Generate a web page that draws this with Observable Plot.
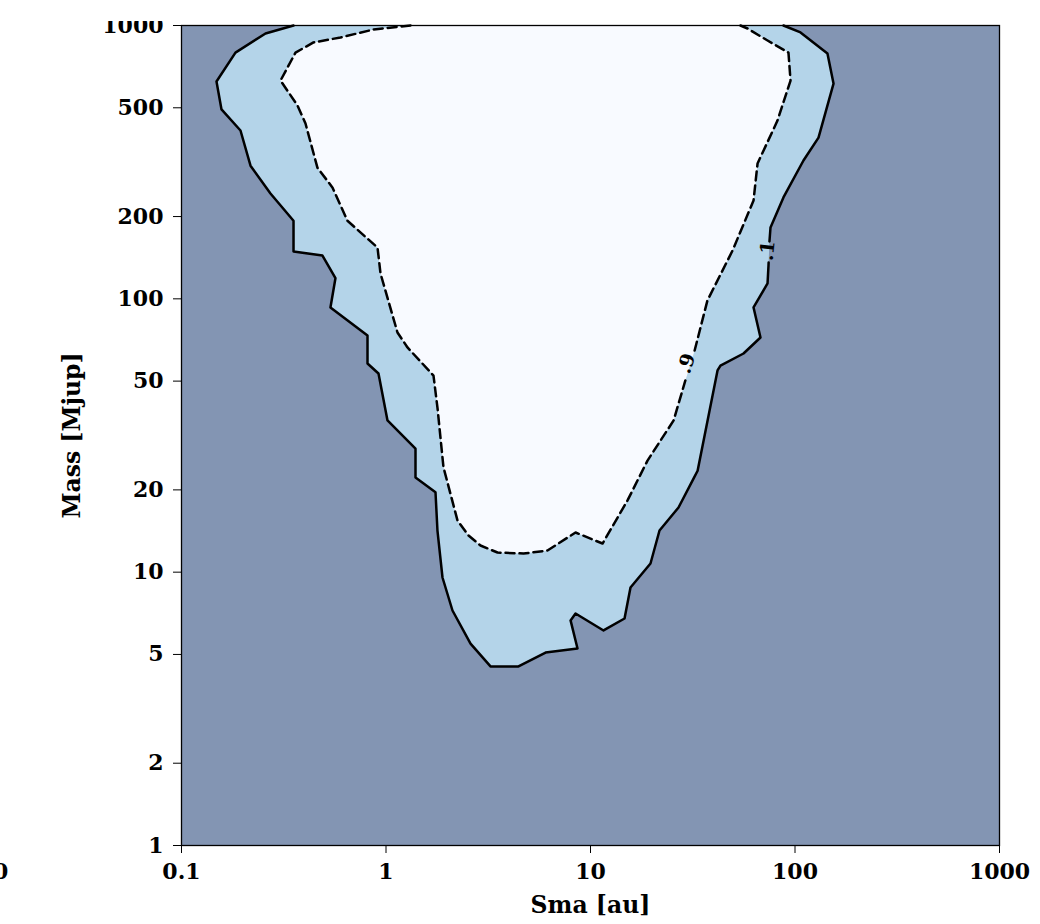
<!DOCTYPE html>
<html>
<head>
<meta charset="utf-8">
<script src="https://cdn.jsdelivr.net/npm/d3@7"></script>
<script src="https://cdn.jsdelivr.net/npm/@observablehq/plot@0.6"></script>
<style>
  html, body { margin: 0; padding: 0; background: #fff; width: 1040px; height: 924px; overflow: hidden; position: relative; }
  #chart { position: absolute; left: 0; top: 21px; }
  #chart svg { overflow: hidden; }
  .edge { position: absolute; left: -7px; top: 858px; font: bold 22px "DejaVu Serif", serif; color: #000; }
</style>
</head>
<body>
<div id="chart"></div>
<span class="edge">0</span>
<script>
// Detection-probability contours over semi-major axis (au) and companion mass (Mjup).
// A NaN entry marks where the contour line is broken to make room for its label.

// Outer contour, probability 0.1 (solid line)
const outerSma  = [0.353, 0.2575, 0.1836, 0.1483, 0.1569, 0.1943, 0.2175, 0.2723, 0.353, 0.353,
                   0.489, 0.566, 0.535, 0.812, 0.812, 0.919, 1.017, 1.394, 1.394, 1.746,
                   1.785, 1.889, 2.114, 2.590, 3.243, 4.445, 6.03, 8.64, 7.99, 8.45,
                   11.58, 14.67, 15.69, 19.65, 21.75, 26.94, 31.9, 33.4, 41.8, 43.2,
                   56.0, 67.8, 62.7, 73.4, 74.2, 74.3, NaN, 75.0, 75.9, 87.8,
                   110.0, 130.3, 154.3, 144.1, 106.4, 87.8];
const outerMass = [1000, 935, 796, 624, 493, 413, 307, 243, 193, 149,
                   144, 119, 93, 73.4, 58.0, 53.3, 35.9, 28.3, 22.2, 19.6,
                   14.2, 9.56, 7.24, 5.48, 4.52, 4.52, 5.08, 5.26, 6.66, 7.06,
                   6.12, 6.77, 8.79, 10.76, 14.2, 17.24, 22.0, 23.5, 54.7, 57.0,
                   63.1, 72.2, 93, 113.8, 132.4, 135.8, NaN, 162.1, 182.4, 234.9,
                   320.7, 389, 613, 790, 943, 1000];

// Inner contour, probability 0.9 (dashed line)
const innerSma  = [1.318, 0.869, 0.599, 0.442, 0.361, 0.305, 0.369, 0.404, 0.462, 0.548,
                   0.648, 0.909, 0.940, 1.138, 1.274, 1.707, 1.785, 1.910, 2.237, 2.532,
                   2.898, 3.510, 4.704, 6.16, 8.45, 11.45, 15.17, 19.0, 25.5, 29.1,
                   NaN, 32.3, 37.3, 49.5, 62.7, 65.6, 82.1, 95.1, 92.9, 73.4,
                   58.6, 54.1];
const innerMass = [1000, 967, 904, 867, 796, 629, 510, 438, 302, 255,
                   193, 154, 123.8, 75.3, 66.4, 52.4, 40.0, 24.2, 15.45, 13.62,
                   12.52, 11.80, 11.70, 12.0, 13.97, 12.73, 18.3, 25.6, 35.9, 50.3,
                   NaN, 64.7, 98.6, 150.2, 229, 312.7, 449, 629, 796, 881,
                   975, 1000];

// Inline contour labels
const lowLabel  = [{sma: 73.4, mass: 150, text: ".1"}];
const highLabel = [{sma: 29.5, mass: 58.0, text: ".9"}];

// Axis ticks
const xTicks = [0.1, 1, 10, 100, 1000];
const xTickLabels = ["0.1", "1", "10", "100", "1000"];
const yTicks = [1, 2, 5, 10, 20, 50, 100, 200, 500, 1000];
const yTickLabels = ["1", "2", "5", "10", "20", "50", "100", "200", "500", "1000"];

const xTitle = "Sma [au]";
const yTitle = "Mass [Mjup]";

const DARK = "#8395b3";
const LIGHT = "#b4d4e9";
const PALE = "#f8faff";

const outer = outerSma.map((s, i) => ({sma: s, mass: outerMass[i]}));
const inner = innerSma.map((s, i) => ({sma: s, mass: innerMass[i]}));
// filled regions use the unbroken outlines
const outerFill = outer.filter(d => !isNaN(d.sma));
const innerFill = inner.filter(d => !isNaN(d.sma));
const xFmt = new Map(xTicks.map((t, i) => [t, xTickLabels[i]]));
const yFmt = new Map(yTicks.map((t, i) => [t, yTickLabels[i]]));

const chart = Plot.plot({
  width: 1040,
  height: 903,
  marginTop: 4,
  marginLeft: 181,
  marginRight: 41,
  marginBottom: 79,
  style: {
    fontFamily: '"DejaVu Serif", serif',
    fontSize: "22px",
    fontWeight: "bold",
    color: "#000",
    background: "#fff",
    overflow: "hidden"
  },
  x: {type: "log", domain: [0.1, 1000], ticks: xTicks, tickFormat: d => xFmt.get(d), tickSize: 8, tickPadding: 10, label: null},
  y: {type: "log", domain: [1, 1000], ticks: yTicks, tickFormat: () => "", tickSize: 8, tickPadding: 10, label: null},
  marks: [
    Plot.frame({fill: DARK}),
    Plot.line(outerFill, {x: "sma", y: "mass", fill: LIGHT, stroke: "none"}),
    Plot.line(innerFill, {x: "sma", y: "mass", fill: PALE, stroke: "none"}),
    Plot.line(outer, {x: "sma", y: "mass", stroke: "#000", strokeWidth: 2.5}),
    Plot.line(inner, {x: "sma", y: "mass", stroke: "#000", strokeWidth: 2.5, strokeDasharray: "9,5"}),
    Plot.text(lowLabel, {x: "sma", y: "mass", text: "text", rotate: -84, fontSize: 19, fontWeight: "bold", fill: "#000"}),
    Plot.text(highLabel, {x: "sma", y: "mass", text: "text", rotate: -73, fontSize: 19, fontWeight: "bold", fill: "#000"}),
    Plot.frame({stroke: "#000", strokeWidth: 1.3}),
    // y tick labels, one per tick value
    Plot.text(yTicks, {y: d => d, text: d => yFmt.get(d), frameAnchor: "left", dx: -18, textAnchor: "end", lineAnchor: "middle", fontSize: 22, fontWeight: "bold", fill: "#000"}),
    Plot.text([xTitle], {text: d => d, frameAnchor: "bottom", dy: 60, textAnchor: "middle", lineAnchor: "middle", fontSize: 23.5, fontWeight: "bold", fill: "#000"}),
    Plot.text([yTitle], {text: d => d, frameAnchor: "left", dx: -109, rotate: -90, textAnchor: "middle", lineAnchor: "middle", fontSize: 23.5, fontWeight: "bold", fill: "#000"})
  ]
});

document.getElementById("chart").appendChild(chart);
</script>
</body>
</html>
